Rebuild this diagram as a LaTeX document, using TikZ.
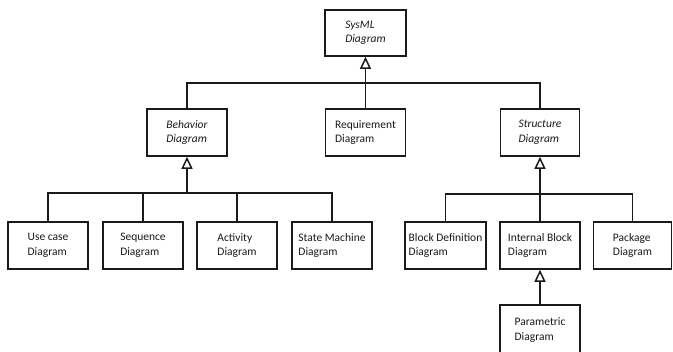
\documentclass[tikz,border=0pt]{standalone}
\usepackage{fontspec}
\setmainfont{Carlito}
\usetikzlibrary{arrows.meta}
\definecolor{ink}{HTML}{1A1A1A}
\tikzset{
  box/.style={draw=ink, line width=1.6pt, fill=white, inner sep=0pt, align=left,
    text=ink, font=\fontsize{11.5}{14.5}\selectfont, minimum height=47pt},
  link/.style={draw=ink, line width=1.7pt},
  gen/.style={link, -{Triangle[open, length=12pt, width=11pt, line width=1.5pt]}}
}
\begin{document}
\begin{tikzpicture}[x=1pt,y=-1pt]
\fill[white] (0,0) rectangle (673,352);
\useasboundingbox (0,0) rectangle (673,352);
% top
\node[box, minimum width=81pt, minimum height=46pt] (sysml) at (365.5,33) {\itshape SysML\\\itshape Diagram};
% second level
\node[box, minimum width=80pt] (beh) at (187,132.5) {\itshape Behavior\\\itshape Diagram};
\node[box, minimum width=80pt] (req) at (365.5,132.5) {Requirement\\Diagram};
\node[box, minimum width=79pt] (str) at (540,132.5) {\itshape Structure\\\itshape Diagram};
% behavior children
\node[box, minimum width=80pt] (uc) at (48,245.5) {Use case\\Diagram};
\node[box, minimum width=80pt] (seq) at (143,245.5) {Sequence\\Diagram};
\node[box, minimum width=80pt] (act) at (237,245.5) {Activity\\Diagram};
\node[box, minimum width=80pt] (sm) at (332,245.5) {State Machine\\Diagram};
% structure children
\node[box, minimum width=81pt] (bdd) at (445.5,245.5) {Block Definition\\Diagram};
\node[box, minimum width=80pt] (ibd) at (540,245.5) {Internal Block\\Diagram};
\node[box, minimum width=78pt] (pkg) at (632.5,245.5) {Package\\Diagram};
\node[box, minimum width=80pt, minimum height=50pt] (par) at (540,330) {Parametric\\Diagram};
% connectors, level 1
\coordinate (h1) at (365.5,83);
\draw[link] (beh.north) |- (h1) -| (str.north);
\draw[gen] (req.north) -- (sysml.south);
% behavior
\coordinate (h2) at (187,193);
\draw[link] (uc.north) |- (h2) -| (sm.north);
\draw[link] (seq.north) -- (seq.north |- h2);
\draw[link] (act.north) -- (act.north |- h2);
\draw[gen] (h2) -- (beh.south);
% structure
\coordinate (h3) at (540,194);
\draw[link] (bdd.north) |- (h3) -| (pkg.north);
\draw[gen] (ibd.north) -- (str.south);
\draw[gen] (par.north) -- (ibd.south);
\end{tikzpicture}
\end{document}
